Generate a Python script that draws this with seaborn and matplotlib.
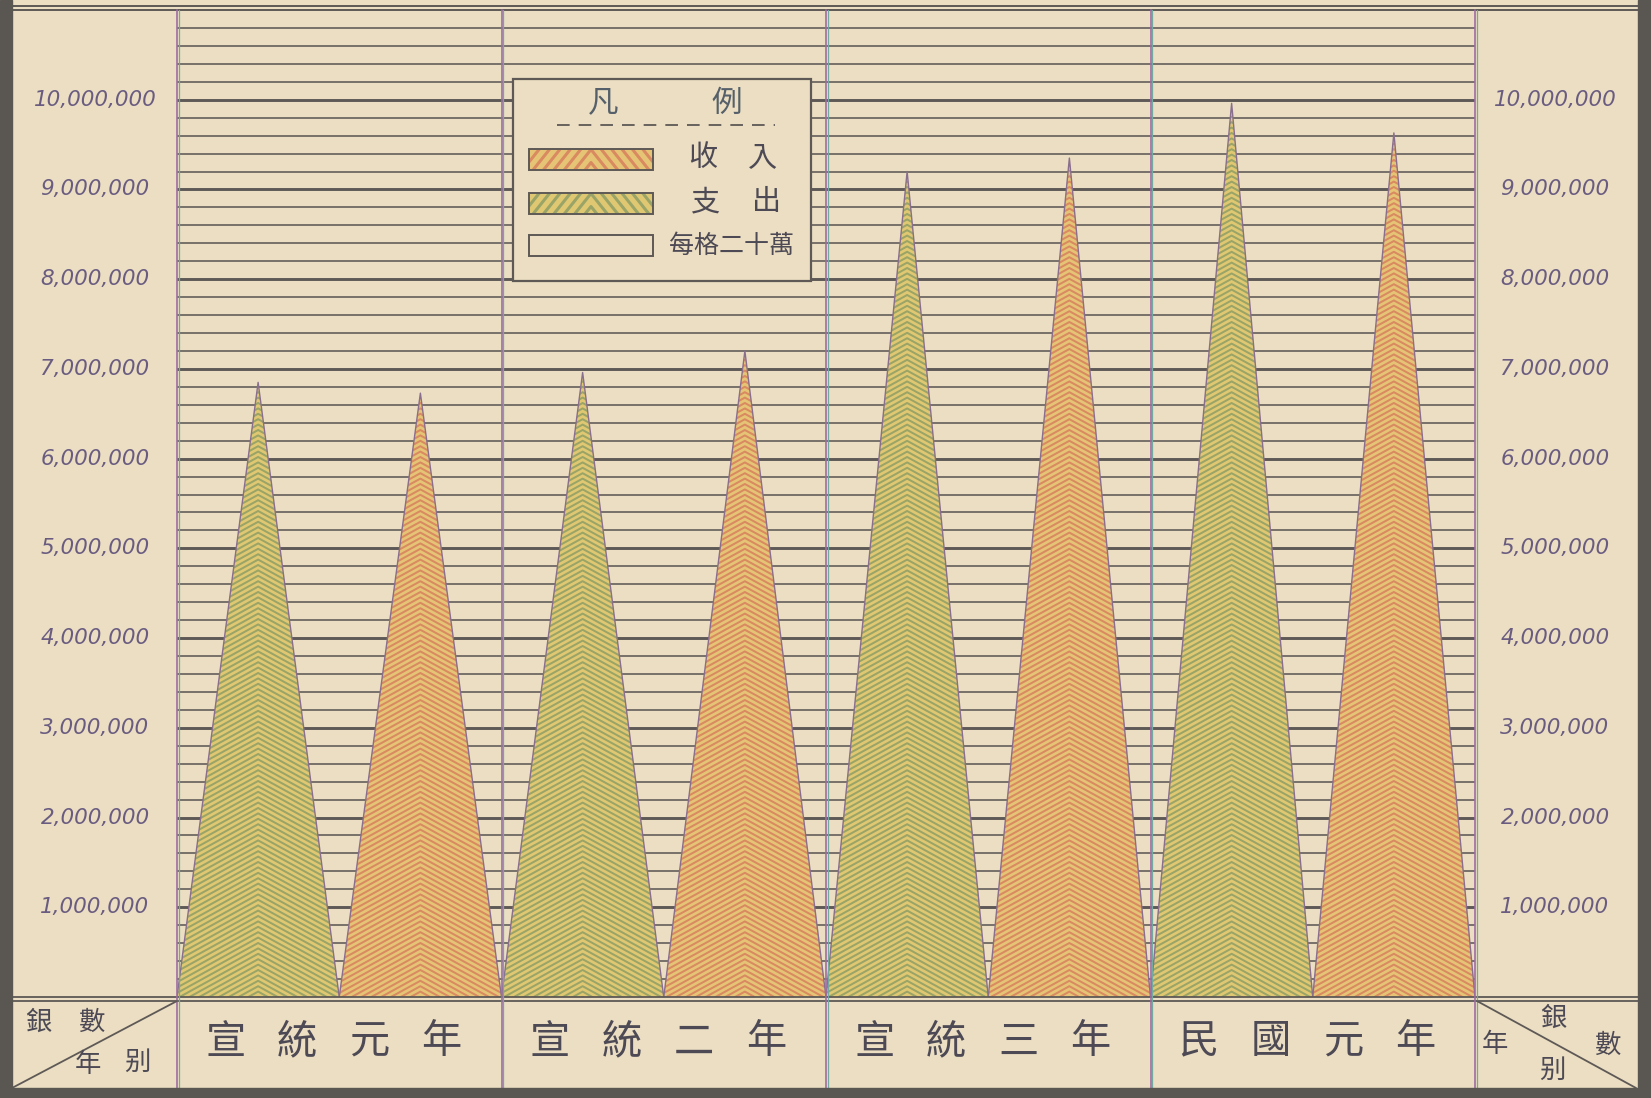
import numpy as np
import pandas as pd
import matplotlib
matplotlib.use("Agg")
import matplotlib.pyplot as plt
import seaborn as sns
from matplotlib.collections import LineCollection
from matplotlib.patches import Polygon, Rectangle
from matplotlib.transforms import blended_transform_factory, ScaledTranslation
from matplotlib.lines import Line2D

# ---------------- data ----------------
years = ["宣統元年", "宣統二年", "宣統三年", "民國元年"]
expenditure = [6_850_000, 6_960_000, 9_200_000, 9_960_000]   # 支出 (green)
revenue = [6_730_000, 7_200_000, 9_350_000, 9_630_000]       # 收入 (orange)
tick_values = list(range(1_000_000, 10_000_001, 1_000_000))
tick_labels = [f"{v:,}" for v in tick_values]
minor_step = 200_000
y_max = 11_000_000
legend_title = ["凡", "例"]
legend_income = ["收", "入"]
legend_expense = ["支", "出"]
legend_grid = "每格二十萬"
corner_chars = ["銀", "數", "年", "别"]

# ---------------- style ----------------
sns.set_theme(style="white")
CJK = ["Noto Sans CJK TC", "DejaVu Sans"]
plt.rcParams["font.family"] = CJK

PAPER = "#ebdec2"
DARK = "#5a5651"
LINE = "#5e5956"
INK = "#4e4a55"
NUM = "#6a5c80"
GREEN_BASE, GREEN_STRIPE = "#e0c873", "#9aa466"
ORANGE_BASE, ORANGE_STRIPE = "#e6c476", "#d98a60"
EDGE = "#8a6e8e"

W, H = 1651, 1098
L, R, T, B = 177, 1475, 10, 997
fig = plt.figure(figsize=(W / 100, H / 100), dpi=100, facecolor=PAPER)
ax = fig.add_axes([L / W, 1 - B / H, (R - L) / W, (B - T) / H], zorder=1)
ax.set_facecolor(PAPER)

n = 2 * len(years)
px_x = (R - L) / n
px_y = (B - T) / y_max

# interleave: each year -> 支出 then 收入
values, kinds = [], []
for e, r in zip(expenditure, revenue):
    values += [e, r]
    kinds += ["exp", "inc"]


def chevron_segments(x0, x1, top, slope_px, period_px, sx, sy):
    xc = (x0 + x1) / 2
    half = (x1 - x0) / 2
    drop = slope_px * half * sx / sy
    period = period_px / sy
    ys = np.arange(0, top + period, period)
    return [[(x0, y0 - drop), (xc, y0), (x1, y0 - drop)] for y0 in ys]


# triangles
outline_rows = []
for k, (v, kind) in enumerate(zip(values, kinds)):
    base = GREEN_BASE if kind == "exp" else ORANGE_BASE
    stripe = GREEN_STRIPE if kind == "exp" else ORANGE_STRIPE
    poly = Polygon([(k, 0), (k + 0.5, v), (k + 1, 0)], closed=True,
                   facecolor=base, edgecolor="none", zorder=2)
    ax.add_patch(poly)
    segs = chevron_segments(k, k + 1, v, 0.55, 5.4, px_x, px_y)
    lc = LineCollection(segs, colors=stripe, linewidths=1.45, zorder=3,
                        capstyle="butt")
    ax.add_collection(lc)
    lc.set_clip_path(poly)
    for xx, yy in [(k, 0), (k + 0.5, v), (k + 1, 0)]:
        outline_rows.append({"x": xx, "y": yy, "tri": k})

df = pd.DataFrame(outline_rows)
sns.lineplot(data=df, x="x", y="y", units="tri", estimator=None, sort=False,
             color=EDGE, linewidth=1.0, ax=ax, legend=False, zorder=4)

ax.set_xlim(0, n)
ax.set_ylim(0, y_max)
ax.set_xlabel("")
ax.set_ylabel("")
ax.set_xticks([])
ax.set_yticks(tick_values)
ax.set_yticks(list(range(minor_step, y_max, minor_step)), minor=True)
ax.grid(axis="y", which="minor", color=LINE, linewidth=1.15)
ax.grid(axis="y", which="major", color=LINE, linewidth=2.1)
ax.set_axisbelow(True)
ax.tick_params(which="both", length=0, labelleft=False, labelbottom=False)
for s in ax.spines.values():
    s.set_visible(False)

# ---------------- overlay (pixel coordinates) ----------------
ov = fig.add_axes([0, 0, 1, 1], zorder=3)
ov.set_xlim(0, W)
ov.set_ylim(H, 0)
ov.axis("off")
ov.patch.set_alpha(0)

# dark outer frame
ov.add_patch(Rectangle((0, 0), 12, H, color=DARK, zorder=5))
ov.add_patch(Rectangle((1638, 0), W - 1638, H, color=DARK, zorder=5))
ov.add_patch(Rectangle((0, 1088), W, H - 1088, color=DARK, zorder=5))

# double top line and double baseline
for yy in (6, 10):
    ov.plot([12, 1638], [yy, yy], color=LINE, lw=1.4, zorder=4)
for yy in (997, 1001):
    ov.plot([12, 1638], [yy, yy], color=LINE, lw=1.3, zorder=4)

# vertical dividers (purple + teal ink fringe)
bt = blended_transform_factory(ax.transData, ov.transData)
for xv in range(0, n + 1, 2):
    ov.add_line(Line2D([xv, xv], [10, 1088], transform=bt, color="#a06ca2",
                       lw=1.2, zorder=4))
    ov.add_line(Line2D([xv, xv], [10, 1088],
                       transform=bt + ScaledTranslation(1.8 / 100, 0, fig.dpi_scale_trans),
                       color="#72aaa0", lw=0.9, zorder=4))

# value labels on both sides
lt = blended_transform_factory(ov.transData, ax.transData)
for v, lab in zip(tick_values, tick_labels):
    for xx in (95, 1555):
        ov.text(xx, v, lab, transform=lt, ha="center", va="center",
                fontsize=15.5, style="italic", color=NUM,
                family=["DejaVu Sans"], zorder=6)

# year labels in the bottom band
for g, name in enumerate(years):
    for j, ch in enumerate(name):
        off = ScaledTranslation(((j - 1.5) * 72 - 6) / 100, 0, fig.dpi_scale_trans)
        ov.text(2 * g + 1, 1042, ch, transform=bt + off, ha="center",
                va="center", fontsize=29, color=INK, family=CJK, zorder=6)

# corner cells
ov.plot([12, 177], [1088, 1001], color=LINE, lw=1.3, zorder=4)
for ch, (xx, yy) in zip(corner_chars, [(38, 1022), (92, 1022), (88, 1064), (137, 1062)]):
    ov.text(xx, yy, ch, ha="center", va="center", fontsize=19, color=INK,
            family=CJK, zorder=6)
ov.plot([1477, 1636], [1001, 1088], color=LINE, lw=1.3, zorder=4)
for ch, (xx, yy) in zip(corner_chars, [(1553, 1018), (1608, 1045), (1495, 1045), (1552, 1070)]):
    ov.text(xx, yy, ch, ha="center", va="center", fontsize=19, color=INK,
            family=CJK, zorder=6)

# ---------------- legend ----------------
ov.add_patch(Rectangle((513, 79), 298, 202, facecolor=PAPER, edgecolor=LINE,
                       lw=1.6, zorder=6))
for ch, xx in zip(legend_title, (603, 727)):
    ov.text(xx, 103, ch, ha="center", va="center", fontsize=22,
            color="#56606a", family=CJK, zorder=8)
ov.plot([557, 775], [125, 125], color=LINE, lw=1.3, ls=(0, (7, 5)), zorder=8)


def legend_patch(x0, y0, w, h, base, stripe):
    rect = Rectangle((x0, y0), w, h, facecolor=base, edgecolor="none", zorder=7)
    ov.add_patch(rect)
    if stripe is not None:
        xc = x0 + w / 2
        drop = 1.25 * w / 2
        segs = [[(x0, y + drop), (xc, y), (x0 + w, y + drop)]
                for y in np.arange(y0 - drop, y0 + h + 14, 13)]
        lc = LineCollection(segs, colors=stripe, linewidths=2.2, zorder=8)
        ov.add_collection(lc)
        lc.set_clip_path(rect)
    ov.add_patch(Rectangle((x0, y0), w, h, facecolor="none", edgecolor=LINE,
                           lw=1.4, zorder=9))


legend_patch(529, 149, 124, 21, ORANGE_BASE, ORANGE_STRIPE)
legend_patch(529, 193, 124, 21, GREEN_BASE, GREEN_STRIPE)
legend_patch(529, 235, 124, 21, PAPER, None)
for ch, xx in zip(legend_income, (703, 763)):
    ov.text(xx, 158, ch, ha="center", va="center", fontsize=21, color=INK,
            family=CJK, zorder=9)
for ch, xx in zip(legend_expense, (705, 767)):
    ov.text(xx, 202, ch, ha="center", va="center", fontsize=21, color=INK,
            family=CJK, zorder=9)
ov.text(731, 246, legend_grid, ha="center", va="center", fontsize=18,
        color=INK, family=CJK, zorder=9)

fig.savefig("out.png", dpi=100, facecolor=PAPER)
